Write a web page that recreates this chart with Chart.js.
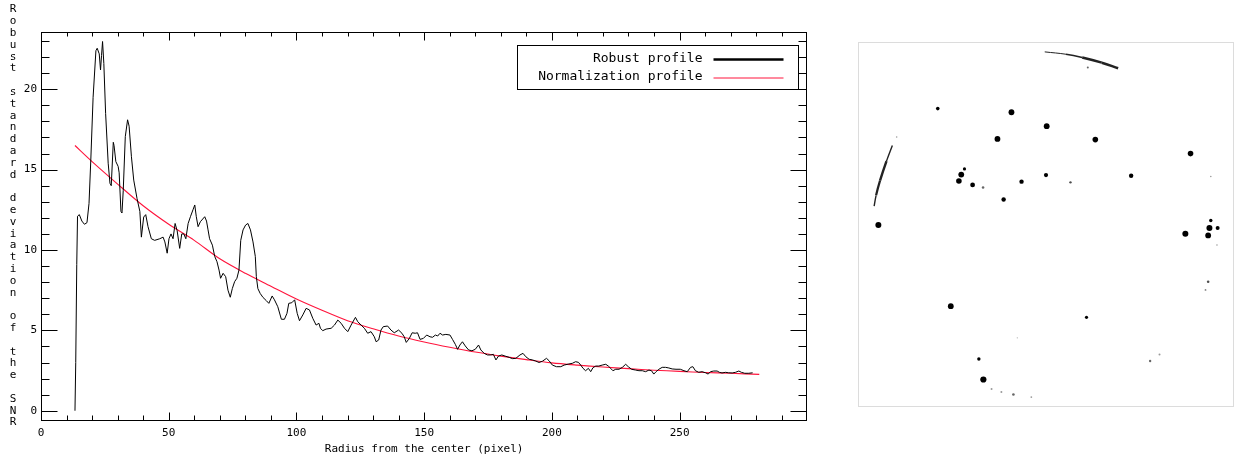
<!DOCTYPE html>
<html>
<head>
<meta charset="utf-8">
<title>Robust profile</title>
<script src="https://cdn.jsdelivr.net/npm/chart.js@4.4.1/dist/chart.umd.min.js"></script>
<style>
  html, body { margin: 0; padding: 0; background: #fff; }
  #profile-wrap { position: absolute; left: 0; top: 0; width: 830px; height: 463px; }
  #spots-wrap { position: absolute; left: 858px; top: 42px; width: 374px; height: 363px; border: 1px solid #dcdcdc; }
</style>
</head>
<body>
<div id="profile-wrap"><canvas id="profile-chart" width="830" height="463"></canvas></div>
<div id="spots-wrap"><canvas id="spots-chart" width="374" height="363"></canvas></div>
<script>
// Radial profile of the SNR (left) and the spot image (right)

const xTitle = 'Radius from the center (pixel)';
const yTitle = 'Robust standard deviation of the SNR';
const xTicks = [0, 50, 100, 150, 200, 250];
const yTicks = [0, 5, 10, 15, 20];

const robustRadius = [
    13.3, 13.6, 14.0, 14.3, 15.0, 16.0, 17.0, 18.0, 18.8, 19.5, 20.4, 21.5, 22.0, 22.8, 23.3, 23.7, 24.1, 24.6, 25.3, 26.3,
    27.0, 27.5, 28.3, 28.6, 29.3, 30.2, 30.6, 31.3, 31.7, 32.2, 33.0, 33.9, 34.5, 35.4, 36.3, 37.6, 38.7, 39.3, 40.2, 41.0,
    41.9, 43.2, 44.5, 46.5, 47.8, 48.5, 49.4, 50.1, 50.9, 51.7, 52.5, 53.3, 54.3, 55.1, 55.9, 56.7, 57.6, 58.5, 59.5, 60.2,
    60.8, 61.5, 62.4, 64.1, 64.8, 65.4, 66.0, 67.1, 68.0, 68.9, 69.7, 70.3, 71.3, 72.3, 73.2, 74.1, 74.9, 75.8, 76.7, 77.5,
    78.2, 79.1, 80.1, 81.0, 82.0, 83.0, 83.9, 84.3, 84.9, 85.8, 86.9, 88.2, 89.2, 90.5, 91.4, 92.7, 94.1, 95.3, 96.3, 97.0,
    98.2, 99.3, 100.3, 101.2, 102.5, 103.8, 105.1, 106.4, 107.7, 108.8, 109.4, 110.3, 111.6, 113.6, 114.9, 116.2, 117.5, 118.8, 120.1, 121.4,
    123.1, 124.0, 125.3, 126.6, 127.9, 129.2, 130.5, 131.2, 132.2, 133.1, 134.0, 135.7, 137.0, 138.3, 140.0, 141.3, 142.2, 143.0, 144.2, 145.3,
    146.5, 147.4, 148.4, 149.7, 151.0, 152.3, 153.3, 154.4, 155.3, 156.2, 157.2, 158.5, 160.1, 161.1, 162.2, 163.1, 164.0, 165.0, 166.1, 167.4,
    168.7, 170.0, 171.3, 172.2, 173.5, 174.8, 176.1, 177.1, 178.1, 179.1, 180.4, 181.7, 183.3, 184.6, 185.9, 187.5, 188.7, 189.8, 191.1, 192.4,
    193.7, 195.0, 196.3, 197.9, 198.9, 200.2, 201.8, 203.5, 204.8, 206.4, 208.0, 209.3, 210.4, 211.3, 212.2, 213.2, 214.3, 215.2, 216.1, 217.2,
    218.4, 219.7, 221.1, 222.1, 223.0, 223.9, 225.0, 226.3, 227.6, 228.9, 229.9, 231.2, 232.8, 234.1, 235.4, 236.7, 238.0, 239.0, 239.9, 240.8,
    241.9, 243.2, 244.5, 245.8, 247.1, 248.6, 250.3, 251.7, 253.0, 254.3, 255.2, 256.2, 257.5, 258.8, 260.2, 261.2, 262.1, 263.4, 264.7, 265.6,
    266.6, 268.0, 269.2, 270.6, 271.9, 273.2, 274.2, 275.5, 277.1, 278.6
];
const robustSigma = [
    0.0, 3.0, 9.1, 12.1, 12.2, 11.8, 11.6, 11.7, 12.9, 15.6, 19.5, 22.4, 22.55, 22.2, 21.2, 22.1, 22.97, 21.6, 18.5, 15.4,
    14.15, 14.0, 16.7, 16.5, 15.5, 15.2, 14.8, 12.4, 12.3, 13.7, 17.05, 18.1, 17.7, 15.8, 14.35, 13.2, 12.4, 10.8, 12.05, 12.2,
    11.45, 10.7, 10.6, 10.7, 10.8, 10.5, 9.8, 10.7, 11.0, 10.7, 11.65, 11.2, 10.1, 11.0, 11.0, 10.7, 11.65, 12.07, 12.5, 12.8,
    12.07, 11.45, 11.76, 12.07, 11.8, 11.25, 10.7, 10.3, 9.6, 9.27, 8.75, 8.24, 8.55, 8.34, 7.5, 7.06, 7.6, 8.03, 8.24, 8.75,
    10.6, 11.25, 11.55, 11.65, 11.25, 10.5, 9.6, 8.34, 7.6, 7.3, 7.05, 6.85, 6.68, 7.14, 6.9, 6.47, 5.69, 5.69, 6.06, 6.68,
    6.72, 6.9, 6.06, 5.6, 5.96, 6.37, 6.27, 5.75, 5.33, 5.44, 5.13, 4.98, 5.08, 5.13, 5.33, 5.64, 5.44, 5.13, 4.92, 5.33,
    5.81, 5.54, 5.33, 5.13, 4.82, 4.92, 4.6, 4.29, 4.4, 5.02, 5.23, 5.27, 5.02, 4.85, 5.02, 4.82, 4.6, 4.25, 4.5, 4.85,
    4.82, 4.85, 4.44, 4.5, 4.71, 4.6, 4.57, 4.71, 4.65, 4.82, 4.71, 4.75, 4.71, 4.44, 4.13, 3.82, 4.09, 4.29, 4.03, 3.78,
    3.73, 3.82, 4.09, 3.78, 3.57, 3.47, 3.47, 3.51, 3.16, 3.4, 3.47, 3.4, 3.32, 3.24, 3.26, 3.47, 3.57, 3.36, 3.2, 3.16,
    3.09, 3.0, 3.08, 3.26, 3.11, 2.84, 2.74, 2.74, 2.84, 2.9, 2.95, 3.05, 3.01, 2.84, 2.64, 2.49, 2.64, 2.43, 2.68, 2.78,
    2.78, 2.84, 2.89, 2.78, 2.64, 2.49, 2.58, 2.58, 2.7, 2.89, 2.74, 2.58, 2.53, 2.49, 2.49, 2.43, 2.53, 2.49, 2.28, 2.43,
    2.58, 2.7, 2.7, 2.66, 2.6, 2.58, 2.58, 2.49, 2.43, 2.7, 2.74, 2.49, 2.39, 2.43, 2.36, 2.28, 2.43, 2.47, 2.47, 2.39,
    2.35, 2.39, 2.36, 2.35, 2.39, 2.47, 2.39, 2.33, 2.33, 2.36
];

const normRadius = [13.3, 20, 30, 40, 50, 60, 70, 80, 90, 100, 110, 120, 130, 140, 150, 160, 170, 180, 190, 200, 210, 220, 230, 240, 250, 260, 270, 281.2];
const normSigma = [16.5, 15.5, 14.1, 12.75, 11.6, 10.6, 9.45, 8.55, 7.75, 6.95, 6.25, 5.6, 5.1, 4.65, 4.28, 3.95, 3.65, 3.4, 3.18, 2.98, 2.84, 2.72, 2.62, 2.52, 2.45, 2.38, 2.33, 2.26];

// spots on the right-hand image, in image pixels (origin top left)
const spotX = [76.4, 151.7, 187.7, 137.4, 237.4, 334.7, 103.7, 100.4, 98.0, 112.0, 122.7, 162.0, 187.0, 212.0, 274.0, 143.7, 15.7, 329.4, 354.0, 352.7,
    355.4, 362.4, 89.7, 228.4, 118.4, 123.0, 293.4, 303.0, 131.4, 141.4, 153.7, 172.0, 355.4, 352.7, 350.0, 229.7, 34.4, 361.7, 157.7];
const spotY = [63.0, 66.7, 81.0, 94.0, 94.7, 109.0, 124.7, 130.4, 137.0, 141.0, 143.7, 137.7, 131.0, 138.4, 131.7, 156.0, 182.0, 191.0, 185.0, 192.7,
    177.4, 185.0, 265.0, 276.4, 319.0, 340.0, 321.0, 314.4, 349.7, 352.7, 355.4, 358.0, 132.4, 240.0, 248.4, 21.0, 92.0, 202.4, 297.4];
const spotSize = [1.8, 2.9, 2.9, 2.9, 2.8, 2.8, 1.6, 2.9, 2.8, 2.4, 1.3, 2.2, 2.1, 1.2, 2.2, 2.2, 3.0, 3.0, 3.0, 2.9,
    1.7, 2.0, 2.9, 1.6, 1.7, 3.1, 1.2, 1.0, 1.0, 1.0, 1.3, 0.9, 0.8, 1.3, 0.9, 1.0, 0.8, 0.8, 0.7];
const spotShade = [0, 0, 0, 0, 0, 0, 0, 0, 0, 0, 0.4, 0, 0, 0.3, 0, 0, 0, 0, 0, 0,
    0, 0, 0, 0, 0, 0, 0.4, 0.6, 0.6, 0.6, 0.4, 0.6, 0.6, 0.3, 0.5, 0.4, 0.6, 0.6, 0.7];

const arcTopX = [185.7, 207.4, 224.0, 244.0, 260.7];
const arcTopY = [5.0, 7.4, 10.7, 16.0, 21.7];
const arcLeftX = [30.0, 24.0, 17.4, 13.4, 11.4];
const arcLeftY = [100.7, 116.7, 136.7, 151.7, 162.7];

const MONO = '"DejaVu Sans Mono", "Liberation Mono", monospace';
const RED = 'rgb(255, 20, 60)';

function toPoints(xs, ys) {
    return xs.map((x, i) => ({ x: x, y: ys[i] }));
}

// frame with inward ticks on all four sides
const frameTicks = {
    id: 'frameTicks',
    afterDraw(chart) {
        const { ctx, chartArea: a, scales } = chart;
        const x = scales.x, y = scales.y;
        const L = Math.round(a.left) + 0.5, R = Math.round(a.right) - 0.5;
        const T = Math.round(a.top) + 0.5, B = Math.round(a.bottom) - 0.5;
        ctx.save();
        ctx.strokeStyle = '#000';
        ctx.lineWidth = 1;
        ctx.strokeRect(L, T, R - L, B - T);
        ctx.beginPath();
        for (let v = 10; v < x.max; v += 10) {
            const px = Math.round(x.getPixelForValue(v)) + 0.5;
            const major = v % 50 === 0;
            ctx.moveTo(px, B); ctx.lineTo(px, B - (major ? 8 : 5));
            ctx.moveTo(px, T); ctx.lineTo(px, T + (major ? 8 : 4));
        }
        for (let v = 0; v < y.max; v += 1) {
            const py = Math.round(y.getPixelForValue(v)) + 0.5;
            const major = v % 5 === 0;
            ctx.moveTo(L, py); ctx.lineTo(L + (major ? 16 : 8), py);
            ctx.moveTo(R, py); ctx.lineTo(R - (major ? 16 : 8), py);
        }
        ctx.stroke();
        ctx.restore();
    }
};

// y title written one character per line
const stackedTitle = {
    id: 'stackedTitle',
    afterDraw(chart) {
        const ctx = chart.ctx;
        ctx.save();
        ctx.fillStyle = '#000';
        ctx.font = '11px ' + MONO;
        ctx.textAlign = 'center';
        ctx.textBaseline = 'middle';
        yTitle.split('').forEach((ch, i) => {
            ctx.fillText(ch, 13, 9.5 + i * 11.8);
        });
        ctx.restore();
    }
};

// boxed legend inside the top right corner: text, then line sample
const boxLegend = {
    id: 'boxLegend',
    afterDraw(chart) {
        const { ctx, chartArea: a } = chart;
        const right = Math.round(a.right - 9) + 0.5;
        const top = Math.round(a.top + 13) + 0.5;
        ctx.save();
        ctx.fillStyle = '#fff';
        ctx.fillRect(right - 281, top, 281, 44);
        ctx.strokeStyle = '#000';
        ctx.lineWidth = 1;
        ctx.strokeRect(right - 281, top, 281, 44);
        ctx.font = '13px ' + MONO;
        ctx.textAlign = 'right';
        ctx.textBaseline = 'middle';
        chart.data.datasets.forEach((ds, i) => {
            const rowY = top + 13 + i * 18.5;
            ctx.fillStyle = '#000';
            ctx.fillText(ds.label, right - 96, rowY);
            ctx.strokeStyle = ds.borderColor;
            ctx.lineWidth = i === 0 ? 2.5 : 1;
            ctx.beginPath();
            ctx.moveTo(right - 85, rowY + 1);
            ctx.lineTo(right - 15, rowY + 1);
            ctx.stroke();
        });
        ctx.restore();
    }
};

function initProfile() {
    const ctx = document.getElementById('profile-chart').getContext('2d');
    new Chart(ctx, {
        type: 'line',
        data: {
            datasets: [
                {
                    label: 'Robust profile',
                    data: toPoints(robustRadius, robustSigma),
                    borderColor: '#000',
                    borderWidth: 1,
                    pointRadius: 0,
                    tension: 0
                },
                {
                    label: 'Normalization profile',
                    data: toPoints(normRadius, normSigma),
                    borderColor: RED,
                    borderWidth: 1.1,
                    pointRadius: 0,
                    tension: 0.3
                }
            ]
        },
        options: {
            responsive: false,
            animation: false,
            layout: { padding: { top: 31.7, right: 22.7, left: 0, bottom: 0 } },
            plugins: {
                legend: { display: false },
                tooltip: { enabled: false }
            },
            scales: {
                x: {
                    type: 'linear',
                    min: 0,
                    max: 300,
                    afterBuildTicks: (s) => { s.ticks = xTicks.map(v => ({ value: v })); },
                    afterFit: (s) => { s.height = 42.3; },
                    grid: { display: false, drawTicks: false },
                    border: { display: false },
                    ticks: { color: '#000', font: { family: MONO, size: 11 }, padding: 6, maxRotation: 0, autoSkip: false },
                    title: { display: true, text: xTitle, color: '#000', font: { family: MONO, size: 11 }, padding: { top: 0, bottom: 7.5 } }
                },
                y: {
                    min: -0.62,
                    max: 23.58,
                    afterBuildTicks: (s) => { s.ticks = yTicks.map(v => ({ value: v })); },
                    afterFit: (s) => { s.width = 41; },
                    grid: { display: false, drawTicks: false },
                    border: { display: false },
                    ticks: { color: '#000', font: { family: MONO, size: 11 }, padding: 4 },
                    title: { display: false }
                }
            }
        },
        plugins: [frameTicks, stackedTitle, boxLegend]
    });
}

function initSpots() {
    const ctx = document.getElementById('spots-chart').getContext('2d');
    new Chart(ctx, {
        type: 'scatter',
        data: {
            datasets: [
                {
                    label: 'Spots',
                    data: toPoints(spotX, spotY),
                    pointRadius: spotSize,
                    pointBackgroundColor: spotShade.map(s => 'rgba(0, 0, 0, ' + (1 - s) + ')'),
                    pointBorderWidth: 0
                },
                {
                    label: 'Top arc',
                    data: toPoints(arcTopX, arcTopY),
                    showLine: true,
                    pointRadius: 0,
                    borderColor: '#222',
                    tension: 0.4,
                    segment: { borderWidth: c => [1, 1.6, 2.4, 2.6][c.p0DataIndex] }
                },
                {
                    label: 'Left arc',
                    data: toPoints(arcLeftX, arcLeftY),
                    showLine: true,
                    pointRadius: 0,
                    borderColor: '#222',
                    tension: 0.4,
                    segment: { borderWidth: c => [1.4, 2.4, 2.2, 1.4][c.p0DataIndex] }
                }
            ]
        },
        options: {
            responsive: false,
            animation: false,
            layout: { padding: 0 },
            plugins: {
                legend: { display: false },
                tooltip: { enabled: false }
            },
            scales: {
                x: { min: 0, max: 374, display: false },
                y: { min: 0, max: 363, reverse: true, display: false }
            }
        }
    });
}

if (document.readyState === 'loading') {
    document.addEventListener('DOMContentLoaded', () => { initProfile(); initSpots(); });
} else {
    initProfile();
    initSpots();
}
</script>
</body>
</html>
